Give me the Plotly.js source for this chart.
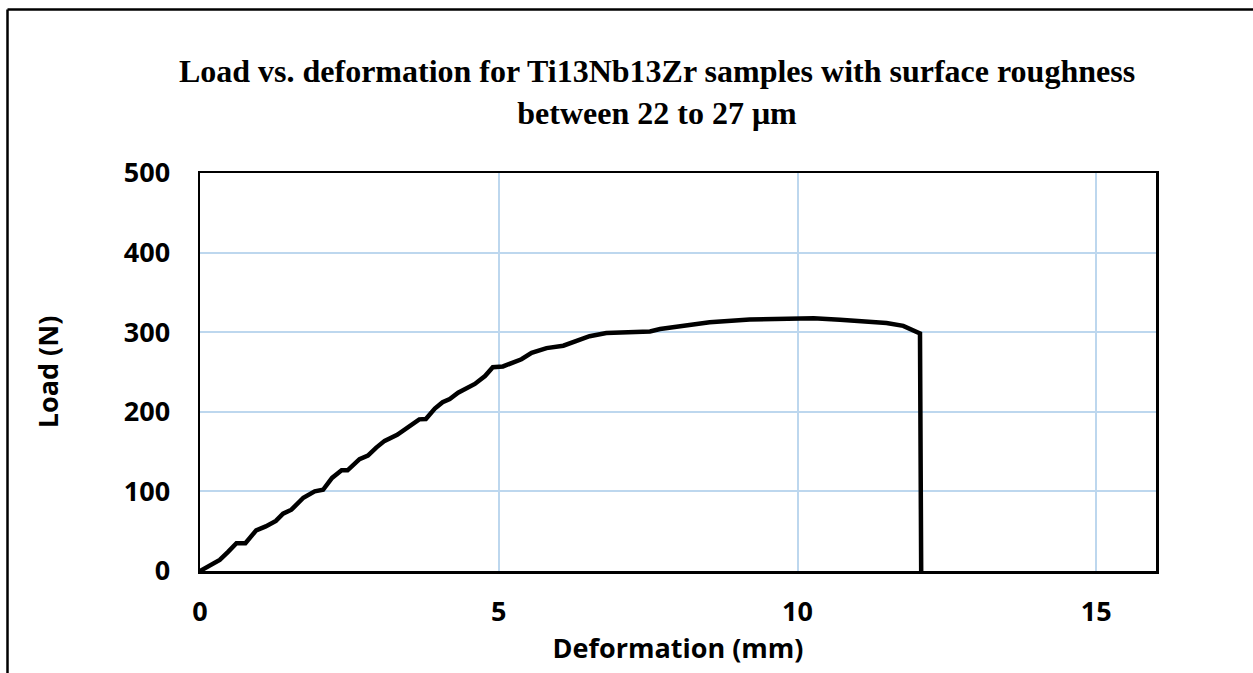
<!DOCTYPE html>
<html>
<head>
<meta charset="utf-8">
<script src="https://cdn.plot.ly/plotly-3.0.1.min.js"></script>
<style>
  html, body { margin: 0; padding: 0; background: #fff; }
  #chart { width: 1253px; height: 673px; }
</style>
</head>
<body>
<div id="chart"></div>
<script>
// Deformation (mm)
const deformation = [0, 0.15, 0.33, 0.47, 0.61, 0.76, 0.94, 1.10, 1.27, 1.39, 1.53, 1.73, 1.92, 2.06, 2.21, 2.37, 2.47, 2.67, 2.81, 2.95, 3.09, 3.30, 3.48, 3.67, 3.78, 3.93, 4.06, 4.18, 4.32, 4.46, 4.60, 4.77, 4.90, 5.07, 5.24, 5.38, 5.55, 5.80, 6.08, 6.30, 6.52, 6.80, 7.14, 7.53, 7.70, 8.09, 8.53, 9.20, 9.99, 10.27, 10.71, 11.16, 11.49, 11.77, 11.94, 12.05, 12.07];
// Load (N)
const load = [0, 6, 14, 24, 35, 35, 51, 56, 63, 72, 77, 92, 100, 102, 117, 126.5, 126.5, 140.5, 145, 155, 163.5, 171, 181, 190.5, 191, 204, 212, 216, 224, 230, 235, 245, 256, 257, 262, 266, 274, 280, 283, 289, 295, 299, 300.5, 301, 304, 308.5, 312.5, 316, 317.5, 317.5, 315.5, 313.7, 311.5, 308, 303, 298.5, 0];

const titleText = "Load vs. deformation for Ti13Nb13Zr samples with surface roughness<br>between 22 to 27 μm";
const xTitle = "Deformation (mm)";
const yTitle = "Load (N)";
const xTicks = [0, 5, 10, 15];
const yTicks = [0, 100, 200, 300, 400, 500];

const tickFont = { family: "Open Sans, Lato, sans-serif", size: 27, color: "#000", weight: 700 };
const gridColor = "#BDD7EE";

const trace = {
  x: deformation,
  y: load,
  type: "scatter",
  mode: "lines",
  line: { color: "#000", width: 4.5, shape: "linear" },
  hoverinfo: "x+y",
  showlegend: false
};

// plot area: x 200..1156, y 173..571 (px)
const L = 200, R = 1156, T = 173, B = 571;
function px2paperX(p) { return (p - L) / (R - L); }
function px2paperY(p) { return (B - p) / (B - T); }

const layout = {
  width: 1253,
  height: 673,
  paper_bgcolor: "#fff",
  plot_bgcolor: "#fff",
  margin: { l: L, r: 1253 - R, t: T, b: 673 - B, pad: 0 },
  title: {
    text: titleText,
    font: { family: "Liberation Serif, Times New Roman, serif", size: 32, color: "#000", weight: 700 },
    x: 657 / 1253,
    xanchor: "center",
    xref: "container",
    y: 1 - 82 / 673,
    yanchor: "top",
    yref: "container"
  },
  xaxis: {
    range: [0, 16],
    tickvals: xTicks,
    ticktext: xTicks.map(String),
    ticks: "",
    tickfont: tickFont,
    ticklabelstandoff: 15,
    showgrid: true,
    gridcolor: gridColor,
    gridwidth: 2,
    zeroline: false,
    showline: true,
    linecolor: "#000",
    linewidth: 2.5,
    mirror: true,
    title: { text: xTitle, font: tickFont, standoff: 10 }
  },
  yaxis: {
    range: [0, 500],
    tickvals: yTicks,
    ticktext: yTicks.map(String),
    ticks: "",
    tickfont: tickFont,
    ticklabelstandoff: 22,
    showgrid: true,
    gridcolor: gridColor,
    gridwidth: 2,
    zeroline: false,
    showline: true,
    linecolor: "#000",
    linewidth: 2.5,
    mirror: true,
    title: { text: yTitle, font: tickFont, standoff: 58 }
  },
  shapes: [
    // outer frame (left and top edges of the surrounding box)
    { type: "line", xref: "paper", yref: "paper", x0: px2paperX(7.5), x1: px2paperX(7.5), y0: px2paperY(9.5), y1: px2paperY(680), line: { color: "#000", width: 2.5 } },
    { type: "line", xref: "paper", yref: "paper", x0: px2paperX(7.5), x1: px2paperX(1260), y0: px2paperY(9.5), y1: px2paperY(9.5), line: { color: "#000", width: 2.5 } }
  ]
};

Plotly.newPlot("chart", [trace], layout, { displayModeBar: false, staticPlot: true });
</script>
</body>
</html>
